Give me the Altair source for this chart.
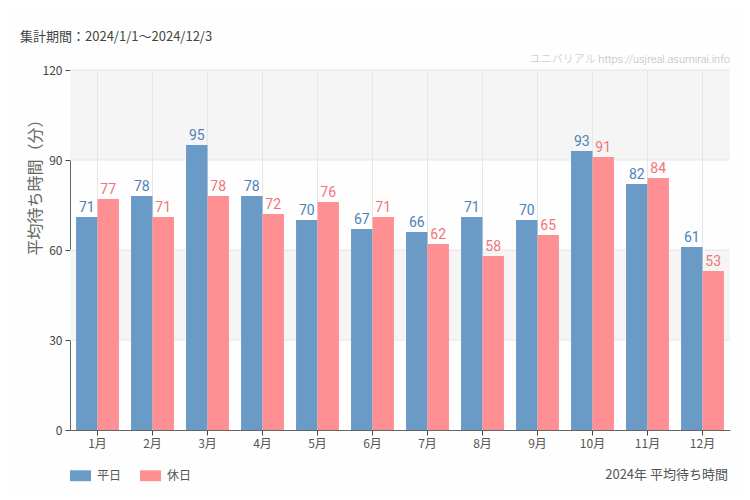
import altair as alt
import pandas as pd

months = ["1月", "2月", "3月", "4月", "5月", "6月", "7月", "8月", "9月", "10月", "11月", "12月"]
weekday = [71, 78, 95, 78, 70, 67, 66, 71, 70, 93, 82, 61]
holiday = [77, 71, 78, 72, 76, 71, 62, 58, 65, 91, 84, 53]
series = ["平日", "休日"]
band_lo = [30, 90]
band_hi = [60, 120]
grid_vals = [30, 60, 90, 120]

rows = []
for m, a, b in zip(months, weekday, holiday):
    rows.append({"month": m, "type": series[0], "value": a})
    rows.append({"month": m, "type": series[1], "value": b})
df = pd.DataFrame(rows)
bands = pd.DataFrame({"lo": band_lo, "hi": band_hi})
grid = pd.DataFrame({"v": grid_vals})
mdf = pd.DataFrame({"month": months})
one = pd.DataFrame({"k": [0]})

W, H = 660, 360
FONT = "Noto Sans CJK JP"
NARROW = "Roboto, Noto Sans CJK JP, sans-serif"
BLUE, PINK = "#6a9ac6", "#fe9093"
BLUE_T, PINK_T = "#4f82b8", "#f27479"

xaxis = alt.Axis(labelAngle=0, labelAlign="center", labelBaseline="top", grid=False,
                 labelFontSize=12, labelColor="#555", labelFont=FONT, labelPadding=3,
                 domainColor="#666", tickColor="#444", tickSize=5)
yaxis = alt.Axis(values=[0, 30, 60, 90, 120], grid=False, title="平均待ち時間（分）",
                 titleFont=FONT, titleFontSize=16, titleColor="#666", titleFontWeight="normal",
                 titleX=-35, titleY=113, titleAngle=-90, titleAlign="center", titleBaseline="middle",
                 labelFont=FONT, labelFontSize=12, labelColor="#444", labelPadding=3,
                 domainColor="#666", tickColor="#444", tickSize=5)
xscale = alt.Scale(paddingInner=0.22, paddingOuter=0.11)
yscale = alt.Scale(domain=[0, 120], nice=False)


def X():
    return alt.X("month:N", sort=months, title=None, scale=xscale, axis=xaxis)


band_layer = alt.Chart(bands).mark_rect(color="#f4f5f4").encode(
    x=alt.value(0), x2=alt.value(W),
    y=alt.Y("lo:Q", scale=yscale, axis=yaxis), y2="hi:Q")

hgrid = alt.Chart(grid).mark_rule(color="#e6e6e6", strokeWidth=1).encode(
    y=alt.Y("v:Q", scale=yscale, axis=yaxis))

vgrid = alt.Chart(mdf).mark_rule(color="#e6e6e6", strokeWidth=1).encode(x=X())

bars = alt.Chart(df).mark_bar().encode(
    x=X(),
    xOffset=alt.XOffset("type:N", sort=series, scale=alt.Scale(paddingInner=0, paddingOuter=0)),
    y=alt.Y("value:Q", scale=yscale, axis=yaxis),
    color=alt.Color("type:N", sort=series,
                    scale=alt.Scale(domain=series, range=[BLUE, PINK]),
                    legend=alt.Legend(title=None, orient="none", legendX=0, legendY=395,
                                      direction="horizontal",
                                      symbolType="M-1,-0.52H1V0.52H-1Z", symbolSize=441,
                                      symbolStrokeWidth=0, symbolOpacity=1,
                                      labelFont=FONT, labelFontSize=12, labelColor="#555",
                                      labelOffset=6, columnPadding=18)),
)

labels = alt.Chart(df).mark_text(dy=-9, font=NARROW, fontSize=14, fontWeight=400).encode(
    x=X(),
    xOffset=alt.XOffset("type:N", sort=series),
    y=alt.Y("value:Q", scale=yscale, axis=yaxis),
    text="value:Q",
    color=alt.condition(alt.datum.type == "平日", alt.value(BLUE_T), alt.value(PINK_T)),
)

title_t = alt.Chart(one).mark_text(align="left", baseline="middle", font=FONT, fontSize=13,
                                   fontWeight=400, color="#444",
                                   text="集計期間：2024/1/1～2024/12/3").encode(
    x=alt.value(-50), y=alt.value(-33))
wm = alt.Chart(one).mark_text(align="right", baseline="middle", font=NARROW, fontSize=11,
                              fontWeight=300, color="#bbbbbb",
                              text="ユニバリアル  https://usjreal.asumirai.info").encode(
    x=alt.value(W), y=alt.value(-10))
foot = alt.Chart(one).mark_text(align="right", baseline="middle", font=FONT, fontSize=13,
                                fontWeight=400, color="#555", text="2024年 平均待ち時間").encode(
    x=alt.value(W - 2), y=alt.value(405))

chart = alt.layer(band_layer, hgrid, vgrid, bars, labels, title_t, wm, foot).properties(
    width=W, height=H,
    autosize=alt.AutoSizeParams(type="none"),
    padding={"left": 62, "top": 62, "right": 12, "bottom": 62},
    background="#fdfefd",
).configure_view(stroke=None)

chart.save("out.html", embed_options={"renderer": "svg", "actions": False})
